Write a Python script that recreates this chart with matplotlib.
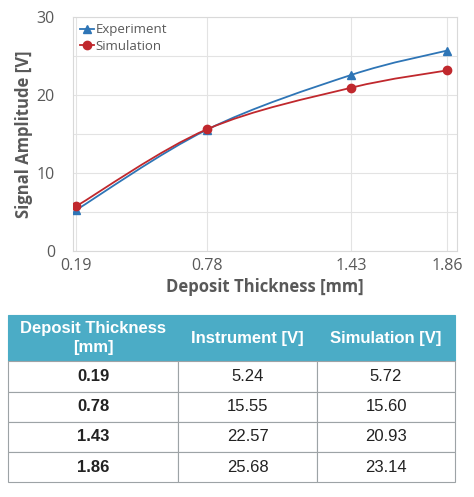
import numpy as np
import matplotlib
matplotlib.use("Agg")
import matplotlib.pyplot as plt
from matplotlib.path import Path
from matplotlib.patches import PathPatch

thickness = [0.19, 0.78, 1.43, 1.86]
experiment = [5.24, 15.55, 22.57, 25.68]
simulation = [5.72, 15.60, 20.93, 23.14]
thickness_labels = ["0.19", "0.78", "1.43", "1.86"]
col_labels = ["Deposit Thickness\n[mm]", "Instrument [V]", "Simulation [V]"]
exp_labels = ["5.24", "15.55", "22.57", "25.68"]
sim_labels = ["5.72", "15.60", "20.93", "23.14"]

plt.rcParams['font.family'] = ['Open Sans', 'DejaVu Sans']

fig = plt.figure(figsize=(4.74, 4.97), dpi=100)
ax = fig.add_axes([0.154, 0.495, 0.81, 0.471])

gray = "#595959"
c_exp = "#2E75B6"
c_sim = "#C0282D"


def smooth_path(x, y):
    # Catmull-Rom style Bezier control points (Excel-like smoothing)
    x = np.asarray(x, float); y = np.asarray(y, float)
    verts = [(x[0], y[0])]
    codes = [Path.MOVETO]
    n = len(x)
    t = 1.0 / 6.0
    for i in range(n - 1):
        x0, y0 = (x[i - 1], y[i - 1]) if i > 0 else (x[i], y[i])
        x3, y3 = (x[i + 2], y[i + 2]) if i + 2 < n else (x[i + 1], y[i + 1])
        c1 = (x[i] + (x[i + 1] - x0) * t, y[i] + (y[i + 1] - y0) * t)
        c2 = (x[i + 1] - (x3 - x[i]) * t, y[i + 1] - (y3 - y[i]) * t)
        verts += [c1, c2, (x[i + 1], y[i + 1])]
        codes += [Path.CURVE4] * 3
    return Path(verts, codes)


for ys, c, m, ms, lab in [(experiment, c_exp, '^', 6, 'Experiment'), (simulation, c_sim, 'o', 6, 'Simulation')]:
    ax.add_patch(PathPatch(smooth_path(thickness, ys), fill=False, edgecolor=c, lw=1.3, zorder=3))
    ax.plot(thickness, ys, linestyle='none', marker=m, color=c, markersize=ms, zorder=4)
    ax.plot([], [], color=c, marker=m, markersize=ms, lw=1.3, label=lab)

ax.set_xlim(0.1765, 1.905)
ax.set_ylim(0, 30)
ax.set_xticks(thickness)
ax.set_xticklabels(thickness_labels)
ax.set_yticks([0, 10, 20, 30])
ax.set_yticks([5, 15, 25], minor=True)
ax.grid(True, which='both', color='#E3E3E3', lw=0.8)
ax.set_axisbelow(True)
for s in ax.spines.values():
    s.set_color('#D9D9D9')
    s.set_linewidth(0.8)
ax.tick_params(axis='both', which='both', length=0, colors=gray, labelsize=11.5)
ax.tick_params(axis='y', pad=13)
ax.tick_params(axis='x', pad=5)
ax.set_xlabel("Deposit Thickness [mm]", fontsize=12, fontweight='bold', color=gray, labelpad=3)
ax.set_ylabel("Signal Amplitude [V]", fontsize=12, fontweight='bold', color=gray, labelpad=3)
leg = ax.legend(loc='upper left', frameon=False, fontsize=9.5, handlelength=1.1,
                handletextpad=0.1, borderaxespad=0.2, labelspacing=0.25, borderpad=0.3)
for t in leg.get_texts():
    t.set_color(gray)

# Table
tax = fig.add_axes([0.017, 0.030, 0.943, 0.336])
tax.axis('off')
cell_text = [[thickness_labels[i], exp_labels[i], sim_labels[i]] for i in range(len(thickness))]
tbl = tax.table(cellText=cell_text, colLabels=col_labels, cellLoc='center',
                colWidths=[170, 139, 138], bbox=[0, 0, 1, 1])
tbl.auto_set_font_size(False)
header_h = 46
row_h = 30
total = header_h + row_h * 4
for (r, c), cell in tbl.get_celld().items():
    cell.set_edgecolor('#9DA3A6')
    cell.set_linewidth(0.8)
    txt = cell.get_text()
    txt.set_fontfamily(['Liberation Sans', 'DejaVu Sans'])
    txt.set_fontsize(12)
    if r == 0:
        cell.set_facecolor('#4BACC6')
        cell.set_edgecolor('#4BACC6')
        txt.set_color('white')
        txt.set_fontweight('bold')
        txt.set_linespacing(1.3)
        cell.set_height(header_h / total)
    else:
        cell.set_facecolor('white')
        txt.set_color('#222222')
        cell.set_height(row_h / total)
        if c == 0:
            txt.set_fontweight('bold')

fig.savefig("out.png", dpi=100)
